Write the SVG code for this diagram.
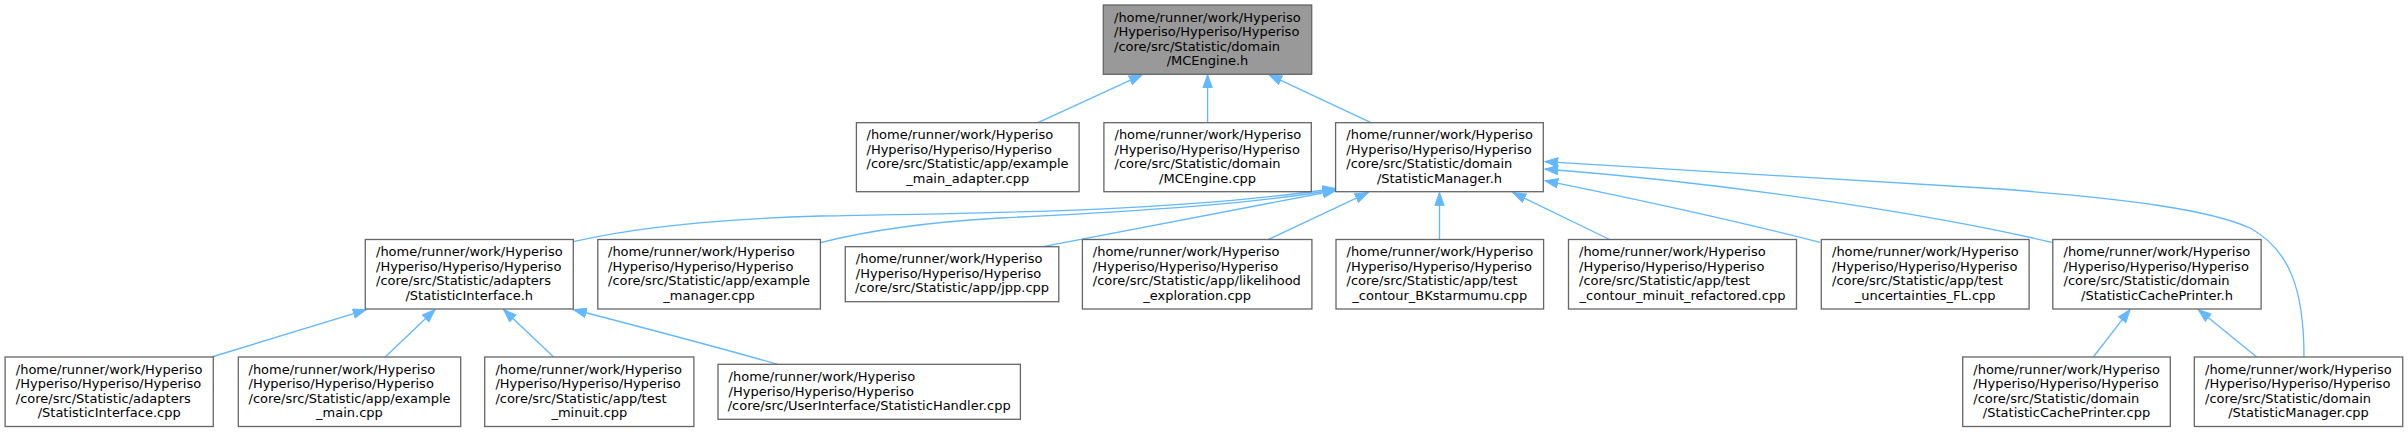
<svg xmlns="http://www.w3.org/2000/svg" width="2408" height="432" viewBox="0 0 2408 432">
<style>
.n rect{fill:#ffffff;stroke:#666666;stroke-width:1.3}
.n.root rect{fill:#999999}
.n text{font-family:"DejaVu Sans","Liberation Sans",sans-serif;font-size:13px;fill:#000000}
.n text.c{text-anchor:middle}
#edges path{fill:none;stroke:#63b8ff;stroke-width:1.33;marker-end:url(#arr)}
</style>
<defs>
<marker id="arr" markerUnits="userSpaceOnUse" markerWidth="15" markerHeight="11" viewBox="0 0 15 11" refX="13.3" refY="5.17" orient="auto">
<path d="M0.5,0.5 L13.3,5.17 L0.5,9.84 Z" fill="#63b8ff" stroke="#63b8ff" stroke-width="1"/>
</marker>
</defs>
<rect x="0" y="0" width="2408" height="432" fill="#ffffff"/>
<g id="edges">
<path d="M1038,122.7 L1142,74.8"/>
<path d="M1207.6,122.7 L1207.6,74.8"/>
<path d="M1371,122.7 L1269,74.8"/>
<path d="M573.3,241.7 C640,226 720,219 820,216 C1000,213 1180,211 1335.5,188.5"/>
<path d="M820.4,242.7 C870,230 930,222 1000,218 C1150,211 1260,203 1335.5,189.5"/>
<path d="M1043,246.7 L1336,190.5"/>
<path d="M1268,239.7 L1368,192.6"/>
<path d="M1439.5,239.5 L1439.5,192.6"/>
<path d="M1609.6,239.5 L1513,192.7"/>
<path d="M1820,242.3 C1740,222 1640,200 1545,180.7"/>
<path d="M2053,242.7 C1950,218 1750,185 1545,169"/>
<path d="M2304,357 C2304,290 2290,250 2250,228 C2210,210 2130,199 2000,189 L1545,161.7"/>
<path d="M211.7,357 L366,309.8"/>
<path d="M385.2,357 L435,309.6"/>
<path d="M553.6,357 L503.6,309.6"/>
<path d="M777.6,364.3 C745,355 660,332 573.5,309.5"/>
<path d="M2093.3,357 L2130,309.6"/>
<path d="M2256.7,357 L2198.3,309.6"/>
</g>
<g id="n_root" class="n root">
<rect x="1103.3" y="5" width="208.4" height="69.3"/>
<text x="1114" y="21.5">/home/runner/work/Hyperiso</text>
<text x="1114" y="36">/Hyperiso/Hyperiso/Hyperiso</text>
<text x="1114" y="50.5">/core/src/Statistic/domain</text>
<text class="c" x="1207.5" y="65">/MCEngine.h</text>
</g>
<g id="n_example_main_adapter" class="n">
<rect x="856.4" y="122.7" width="222.7" height="69"/>
<text x="866.5" y="139.2">/home/runner/work/Hyperiso</text>
<text x="866.5" y="153.7">/Hyperiso/Hyperiso/Hyperiso</text>
<text x="866.5" y="168.2">/core/src/Statistic/app/example</text>
<text class="c" x="967.7" y="182.7">_main_adapter.cpp</text>
</g>
<g id="n_mcengine_cpp" class="n">
<rect x="1103.9" y="122.7" width="207.4" height="69"/>
<text x="1114.5" y="139.2">/home/runner/work/Hyperiso</text>
<text x="1114.5" y="153.7">/Hyperiso/Hyperiso/Hyperiso</text>
<text x="1114.5" y="168.2">/core/src/Statistic/domain</text>
<text class="c" x="1207.6" y="182.7">/MCEngine.cpp</text>
</g>
<g id="n_statisticmanager_h" class="n">
<rect x="1335.6" y="122.7" width="207.7" height="69"/>
<text x="1346.3" y="139.2">/home/runner/work/Hyperiso</text>
<text x="1346.3" y="153.7">/Hyperiso/Hyperiso/Hyperiso</text>
<text x="1346.3" y="168.2">/core/src/Statistic/domain</text>
<text class="c" x="1439.5" y="182.7">/StatisticManager.h</text>
</g>
<g id="n_statisticinterface_h" class="n">
<rect x="365.3" y="239.5" width="208" height="69.5"/>
<text x="376" y="256">/home/runner/work/Hyperiso</text>
<text x="376" y="270.5">/Hyperiso/Hyperiso/Hyperiso</text>
<text x="376" y="285">/core/src/Statistic/adapters</text>
<text class="c" x="469.3" y="299.5">/StatisticInterface.h</text>
</g>
<g id="n_example_manager" class="n">
<rect x="597.8" y="239.5" width="222.6" height="69.5"/>
<text x="608" y="256">/home/runner/work/Hyperiso</text>
<text x="608" y="270.5">/Hyperiso/Hyperiso/Hyperiso</text>
<text x="608" y="285">/core/src/Statistic/app/example</text>
<text class="c" x="709.1" y="299.5">_manager.cpp</text>
</g>
<g id="n_jpp" class="n">
<rect x="845.3" y="246.7" width="213.5" height="55"/>
<text x="855.8" y="263.4">/home/runner/work/Hyperiso</text>
<text x="855.8" y="277.9">/Hyperiso/Hyperiso/Hyperiso</text>
<text class="c" x="952" y="292.4">/core/src/Statistic/app/jpp.cpp</text>
</g>
<g id="n_likelihood" class="n">
<rect x="1082.4" y="239.5" width="229.5" height="69.5"/>
<text x="1092.8" y="256">/home/runner/work/Hyperiso</text>
<text x="1092.8" y="270.5">/Hyperiso/Hyperiso/Hyperiso</text>
<text x="1092.8" y="285">/core/src/Statistic/app/likelihood</text>
<text class="c" x="1197.2" y="299.5">_exploration.cpp</text>
</g>
<g id="n_bkstarmumu" class="n">
<rect x="1336" y="239.5" width="207.6" height="69.5"/>
<text x="1346.5" y="256">/home/runner/work/Hyperiso</text>
<text x="1346.5" y="270.5">/Hyperiso/Hyperiso/Hyperiso</text>
<text x="1346.5" y="285">/core/src/Statistic/app/test</text>
<text class="c" x="1439.8" y="299.5">_contour_BKstarmumu.cpp</text>
</g>
<g id="n_minuit_refactored" class="n">
<rect x="1568.5" y="239.5" width="228" height="69.5"/>
<text x="1579" y="256">/home/runner/work/Hyperiso</text>
<text x="1579" y="270.5">/Hyperiso/Hyperiso/Hyperiso</text>
<text x="1579" y="285">/core/src/Statistic/app/test</text>
<text class="c" x="1682.5" y="299.5">_contour_minuit_refactored.cpp</text>
</g>
<g id="n_uncertainties" class="n">
<rect x="1821.3" y="239.5" width="207.8" height="69.5"/>
<text x="1832" y="256">/home/runner/work/Hyperiso</text>
<text x="1832" y="270.5">/Hyperiso/Hyperiso/Hyperiso</text>
<text x="1832" y="285">/core/src/Statistic/app/test</text>
<text class="c" x="1925.2" y="299.5">_uncertainties_FL.cpp</text>
</g>
<g id="n_statisticcacheprinter_h" class="n">
<rect x="2052.8" y="239.5" width="208.3" height="69.5"/>
<text x="2063.5" y="256">/home/runner/work/Hyperiso</text>
<text x="2063.5" y="270.5">/Hyperiso/Hyperiso/Hyperiso</text>
<text x="2063.5" y="285">/core/src/Statistic/domain</text>
<text class="c" x="2157" y="299.5">/StatisticCachePrinter.h</text>
</g>
<g id="n_statisticinterface_cpp" class="n">
<rect x="5.1" y="357" width="208.2" height="69.5"/>
<text x="15.8" y="373.5">/home/runner/work/Hyperiso</text>
<text x="15.8" y="388">/Hyperiso/Hyperiso/Hyperiso</text>
<text x="15.8" y="402.5">/core/src/Statistic/adapters</text>
<text class="c" x="109.2" y="417">/StatisticInterface.cpp</text>
</g>
<g id="n_example_main" class="n">
<rect x="238.3" y="357" width="222.4" height="69.5"/>
<text x="248.5" y="373.5">/home/runner/work/Hyperiso</text>
<text x="248.5" y="388">/Hyperiso/Hyperiso/Hyperiso</text>
<text x="248.5" y="402.5">/core/src/Statistic/app/example</text>
<text class="c" x="349.5" y="417">_main.cpp</text>
</g>
<g id="n_test_minuit" class="n">
<rect x="484.7" y="357" width="209.2" height="69.5"/>
<text x="495.4" y="373.5">/home/runner/work/Hyperiso</text>
<text x="495.4" y="388">/Hyperiso/Hyperiso/Hyperiso</text>
<text x="495.4" y="402.5">/core/src/Statistic/app/test</text>
<text class="c" x="589.3" y="417">_minuit.cpp</text>
</g>
<g id="n_statistichandler" class="n">
<rect x="718" y="364.3" width="302.4" height="55"/>
<text x="728.6" y="381">/home/runner/work/Hyperiso</text>
<text x="728.6" y="395.5">/Hyperiso/Hyperiso/Hyperiso</text>
<text class="c" x="869.2" y="410">/core/src/UserInterface/StatisticHandler.cpp</text>
</g>
<g id="n_statisticcacheprinter_cpp" class="n">
<rect x="1962.7" y="357" width="207.6" height="69.5"/>
<text x="1973.3" y="373.5">/home/runner/work/Hyperiso</text>
<text x="1973.3" y="388">/Hyperiso/Hyperiso/Hyperiso</text>
<text x="1973.3" y="402.5">/core/src/Statistic/domain</text>
<text class="c" x="2066.5" y="417">/StatisticCachePrinter.cpp</text>
</g>
<g id="n_statisticmanager_cpp" class="n">
<rect x="2194.3" y="357" width="208.4" height="69.5"/>
<text x="2205" y="373.5">/home/runner/work/Hyperiso</text>
<text x="2205" y="388">/Hyperiso/Hyperiso/Hyperiso</text>
<text x="2205" y="402.5">/core/src/Statistic/domain</text>
<text class="c" x="2298.5" y="417">/StatisticManager.cpp</text>
</g>
</svg>
